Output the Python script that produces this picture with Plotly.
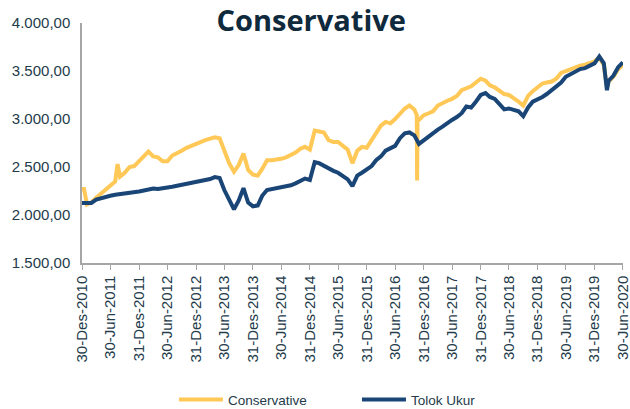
import calendar
import plotly.graph_objects as go

# ---- data (monthly, Dec-2010 .. Jun-2020) ----
conservative = [
    2270, 2110, 2130, 2180, 2220, 2260, 2300, 2350, 2400, 2440,
    2500, 2510, 2560, 2610, 2660, 2610, 2600, 2560, 2560, 2620,
    2640, 2670, 2700, 2720, 2750, 2765, 2780, 2795, 2810, 2800,
    2670, 2540, 2450, 2520, 2640, 2470, 2420, 2410, 2480, 2570,
    2570, 2575, 2585, 2600, 2620, 2650, 2690, 2710, 2680, 2880,
    2870, 2860, 2780, 2760, 2760, 2720, 2680, 2540, 2670, 2710,
    2700, 2780, 2860, 2930, 2970, 2955, 3000, 3060, 3110, 3140,
    3100, 2990, 3040, 3060, 3080, 3140, 3170, 3190, 3210, 3240,
    3300, 3320, 3340, 3380, 3420, 3400, 3350, 3330, 3290, 3260,
    3250, 3220, 3180, 3140, 3240, 3290, 3330, 3370, 3380, 3390,
    3420, 3480, 3500, 3520, 3540, 3555, 3565, 3580, 3600, 3640,
    3560, 3390, 3440, 3520, 3560,
]
tolok_ukur = [
    2125, 2120, 2125, 2160, 2175, 2190, 2200, 2210, 2215, 2225,
    2230, 2235, 2245, 2255, 2265, 2275, 2270, 2275, 2280, 2295,
    2305, 2315, 2330, 2340, 2350, 2355, 2360, 2375, 2395, 2385,
    2260, 2160, 2060, 2150, 2280, 2130, 2090, 2100, 2200, 2260,
    2270, 2280, 2285, 2295, 2310, 2330, 2360, 2380, 2365, 2550,
    2540, 2510, 2480, 2460, 2440, 2400, 2370, 2300, 2410, 2440,
    2470, 2510, 2570, 2610, 2670, 2690, 2720, 2800, 2850, 2860,
    2830, 2740, 2780, 2820, 2860, 2890, 2920, 2960, 2990, 3020,
    3060, 3130, 3120, 3180, 3250, 3270, 3230, 3210, 3160, 3100,
    3110, 3090, 3080, 3030, 3120, 3180, 3200, 3230, 3260, 3300,
    3330, 3380, 3440, 3470, 3490, 3520, 3530, 3550, 3580, 3650,
    3580, 3400, 3450, 3540, 3590,
]
# additional readings between month ends (sharp moves)
cons_extra_dates = ["2011-01-12", "2011-08-15", "2011-08-25", "2016-11-16", "2016-11-18", "2016-11-21", "2020-03-20"]
cons_extra_vals = [2270, 2530, 2410, 3040, 2360, 3010, 3330]
tolok_extra_dates = ["2020-03-20"]
tolok_extra_vals = [3300]

tick_dates = [
    "2010-12-30", "2011-06-30", "2011-12-31", "2012-06-30", "2012-12-31",
    "2013-06-30", "2013-12-31", "2014-06-30", "2014-12-31", "2015-06-30",
    "2015-12-31", "2016-06-30", "2016-12-31", "2017-06-30", "2017-12-31",
    "2018-06-30", "2018-12-31", "2019-06-30", "2019-12-31", "2020-06-30",
]
tick_labels = [
    "30-Des-2010", "30-Jun-2011", "31-Des-2011", "30-Jun-2012", "31-Des-2012",
    "30-Jun-2013", "31-Des-2013", "30-Jun-2014", "31-Des-2014", "30-Jun-2015",
    "31-Des-2015", "30-Jun-2016", "31-Des-2016", "30-Jun-2017", "31-Des-2017",
    "30-Jun-2018", "31-Des-2018", "30-Jun-2019", "31-Des-2019", "30-Jun-2020",
]

# month-end dates for the monthly readings
month_dates = []
y, m = 2010, 12
for i in range(len(conservative)):
    d = calendar.monthrange(y, m)[1]
    if i == 0:
        d = 30
    month_dates.append(f"{y:04d}-{m:02d}-{d:02d}")
    m += 1
    if m > 12:
        m = 1
        y += 1


def merge(dates, vals, xd, xv):
    pts = sorted(list(zip(dates, vals)) + list(zip(xd, xv)))
    return [p[0] for p in pts], [p[1] for p in pts]


cx, cy = merge(month_dates, conservative, cons_extra_dates, cons_extra_vals)
tx, ty = merge(month_dates, tolok_ukur, tolok_extra_dates, tolok_extra_vals)

TXT = "#243B4A"
fig = go.Figure()
fig.add_trace(go.Scatter(x=cx, y=cy, mode="lines", name="Conservative",
                         line=dict(color="#FFC857", width=4)))
fig.add_trace(go.Scatter(x=tx, y=ty, mode="lines", name="Tolok Ukur",
                         line=dict(color="#1A4677", width=4)))

fig.update_layout(
    width=630, height=409,
    margin=dict(l=82, r=7, t=23, b=146, autoexpand=False),
    paper_bgcolor="white", plot_bgcolor="white",
    separators=",.",
    font=dict(family="Liberation Sans, Arial, sans-serif", size=15, color=TXT),
    title=dict(text="<b>Conservative</b>", x=0.494, xanchor="center",
               y=0.948, yanchor="middle",
               font=dict(family="Open Sans, sans-serif", size=29, color="#0E2A3C")),
    showlegend=True,
    legend=dict(orientation="h", x=0.170, xanchor="left", y=-0.57, yanchor="middle",
                font=dict(size=13.5, color=TXT), entrywidth=124, itemwidth=44),
    xaxis=dict(type="date", range=["2010-12-30", "2020-07-01"], automargin=False,
               tickvals=tick_dates, ticktext=tick_labels, tickangle=-90,
               ticklabeloverflow="allow",
               showgrid=False, zeroline=False, showline=True,
               linecolor="#A6A6A6", linewidth=1.5,
               ticks="outside", ticklen=5, tickcolor="#A6A6A6",
               tickfont=dict(size=15, color=TXT)),
    yaxis=dict(range=[1500, 4000], tickvals=[1500, 2000, 2500, 3000, 3500, 4000],
               automargin=False,
               tickformat=",.2f", showgrid=False, zeroline=False, showline=True,
               linecolor="#A6A6A6", linewidth=1.5,
               ticks="outside", ticklen=7, tickcolor="rgba(0,0,0,0)",
               tickfont=dict(size=15, color=TXT)),
)

fig.write_html("out.html", config={"displayModeBar": False},
               post_script="document.body.style.margin='0';")
